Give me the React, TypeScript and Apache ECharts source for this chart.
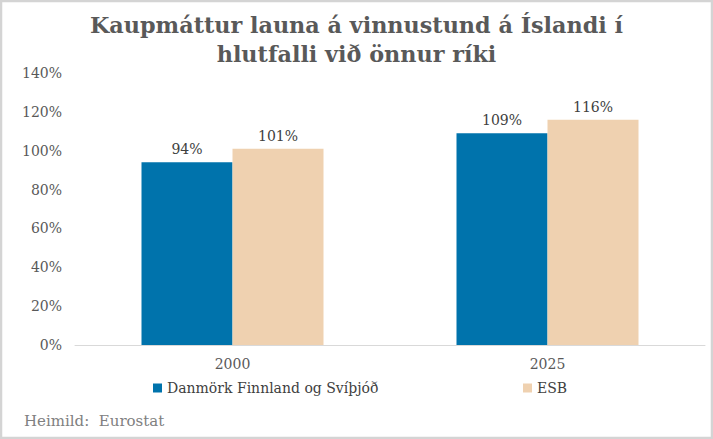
import React, { useEffect, useRef } from "react";
import * as echarts from "echarts";

const categories = ["2000", "2025"];
const seriesNames = ["Danmörk Finnland og Svíþjóð", "ESB"];
const nordicValues = [94, 109];
const esbValues = [101, 116];
const titleLines = ["Kaupmáttur launa á vinnustund á Íslandi í", "hlutfalli við önnur ríki"];
const sourceText = "Heimild:  Eurostat";

const FONT = "DejaVu Serif";

export default function App() {
  const ref = useRef<HTMLDivElement>(null);
  useEffect(() => {
    if (!ref.current) return;
    const chart = echarts.init(ref.current, null, { renderer: "svg" });
    const labelStyle = {
      show: true,
      position: "top",
      distance: 6,
      color: "#404040",
      fontFamily: FONT,
      fontSize: 14,
      formatter: (p: any) => p.value + "%",
    };
    const legendText = {
      color: "#404040",
      fontFamily: FONT,
      fontSize: 14,
      rich: {
        s: { fontFamily: FONT, fontSize: 14, color: "#404040" },
      },
    };
    const legendFormatter = (name: string) => "{s|" + name + "}";
    chart.setOption({
      animation: false,
      backgroundColor: "#ffffff",
      textStyle: { fontFamily: FONT },
      title: {
        text: titleLines.join("\n"),
        left: "center",
        top: 5,
        textStyle: {
          fontFamily: FONT,
          fontWeight: "bold",
          fontSize: 22.3,
          lineHeight: 29,
          color: "#595959",
        },
      },
      grid: { left: 75, right: 8, top: 73, bottom: 94, containLabel: false },
      xAxis: {
        type: "category",
        data: categories,
        axisLine: { lineStyle: { color: "#d9d9d9", width: 1 } },
        axisTick: { show: false },
        axisLabel: { color: "#595959", fontFamily: FONT, fontSize: 14, margin: 12 },
      },
      yAxis: {
        type: "value",
        min: 0,
        max: 140,
        interval: 20,
        splitLine: { show: false },
        axisLine: { show: false },
        axisTick: { show: false },
        axisLabel: {
          color: "#595959",
          fontFamily: FONT,
          fontSize: 14,
          margin: 13,
          formatter: (v: number) => v + "%",
        },
      },
      legend: [
        {
          data: [seriesNames[0]],
          left: 148,
          top: 376,
          itemWidth: 9,
          itemHeight: 9,
          itemGap: 0,
          icon: "rect",
          formatter: legendFormatter,
          textStyle: legendText,
        },
        {
          data: [seriesNames[1]],
          left: 518,
          top: 376,
          itemWidth: 9,
          itemHeight: 9,
          itemGap: 0,
          icon: "rect",
          formatter: legendFormatter,
          textStyle: legendText,
        },
      ],
      series: [
        {
          name: seriesNames[0],
          type: "bar",
          data: nordicValues,
          barWidth: 91,
          barGap: "0%",
          itemStyle: { color: "#0073AC" },
          label: labelStyle,
        },
        {
          name: seriesNames[1],
          type: "bar",
          data: esbValues,
          barWidth: 91,
          barGap: "0%",
          itemStyle: { color: "#EFD1B0" },
          label: labelStyle,
        },
      ],
      graphic: [
        {
          type: "rect",
          shape: { x: 1, y: 1, width: 711, height: 437 },
          style: { fill: "none", stroke: "#d4d4d4", lineWidth: 2.5 },
          silent: true,
        },
        {
          type: "text",
          left: 24,
          top: 413,
          style: {
            text: sourceText,
            fill: "#808080",
            fontFamily: FONT,
            fontSize: 15,
          },
        },
      ],
    });
    return () => chart.dispose();
  }, []);
  return (
    <div
      ref={ref}
      style={{ position: "absolute", left: 0, top: 0, width: 713, height: 439 }}
    />
  );
}
